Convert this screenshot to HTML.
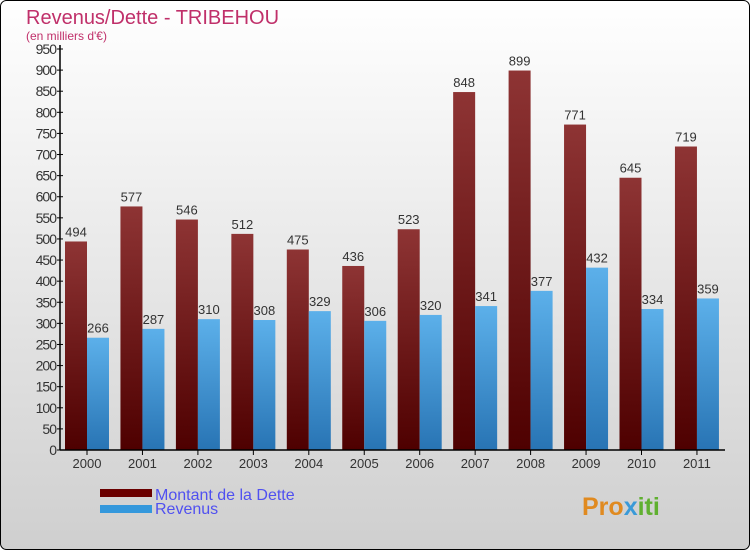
<!DOCTYPE html>
<html><head><meta charset="utf-8"><style>
body{margin:0}
#c{width:750px;height:550px;position:relative;font-family:"Liberation Sans","DejaVu Sans",sans-serif}
</style></head><body>
<div id="c">
<svg width="750" height="550" id="svg">
<defs>
<linearGradient id="bg" x1="0" y1="0" x2="0" y2="1"><stop offset="0" stop-color="#ffffff"/><stop offset="1" stop-color="#cfcfcf"/></linearGradient>
<linearGradient id="gd" x1="0" y1="0" x2="0" y2="1"><stop offset="0" stop-color="#8e3434"/><stop offset="1" stop-color="#4e0000"/></linearGradient>
<linearGradient id="gr" x1="0" y1="0" x2="0" y2="1"><stop offset="0" stop-color="#5cb0ea"/><stop offset="1" stop-color="#2874b4"/></linearGradient>
</defs>
<rect x="0.5" y="0.5" width="749" height="549" rx="6" fill="url(#bg)" stroke="#000"/>
<text x="26" y="24" font-size="20" fill="#c0306a">Revenus/Dette - TRIBEHOU</text>
<text x="26" y="40" font-size="12" fill="#c0306a">(en milliers d'€)</text>
<g id="plot"></g>
<rect x="100" y="489" width="52" height="8" fill="#6a0000"/>
<text x="155" y="500" font-size="16" fill="#5050f0">Montant de la Dette</text>
<rect x="100" y="505" width="52" height="8" fill="#3498dc"/>
<text x="155" y="514" font-size="16" fill="#5050f0">Revenus</text>
<text x="582" y="515" font-size="25" font-weight="bold" fill="#e08a20">Pro<tspan fill="#3a9ad8">x</tspan><tspan fill="#60b030">iti</tspan></text>
</svg>
</div>
<script>
const years=["2000","2001","2002","2003","2004","2005","2006","2007","2008","2009","2010","2011"];
const dette=[494,577,546,512,475,436,523,848,899,771,645,719];
const revenus=[266,287,310,308,329,306,320,341,377,432,334,359];
const ticks=[0,50,100,150,200,250,300,350,400,450,500,550,600,650,700,750,800,850,900,950];
const NS="http://www.w3.org/2000/svg";
const g=document.getElementById('plot');
const y0=450,y1=49,vmax=950;
const y=v=>y0-(v/vmax)*(y0-y1);
const cx=i=>87+i*55.45;
function el(t,a,txt){const e=document.createElementNS(NS,t);for(const k in a)e.setAttribute(k,a[k]);if(txt!==undefined)e.textContent=txt;g.appendChild(e);return e;}
ticks.forEach(t=>{
 const l=el('line',{x1:57,x2:63,y1:y(t),y2:y(t),stroke:'#000'});
 
 
 const tx=el('text',{x:56,y:y(t)+5,'font-size':14,'text-anchor':'end',fill:'#333','letter-spacing':'-1'},t);
 
 
});
years.forEach((yr,i)=>{
 const c=cx(i);
 const b1=el('rect',{x:c-22,y:y(dette[i]),width:22,height:y0-y(dette[i]),fill:'url(#gd)'});
 
 
 const b2=el('rect',{x:c,y:y(revenus[i]),width:22,height:y0-y(revenus[i]),fill:'url(#gr)'});
 
 
 const v1=el('text',{x:c-11,y:y(dette[i])-5,'font-size':13,'text-anchor':'middle',fill:'#333'},dette[i]);
 
 
 const v2=el('text',{x:c+11,y:y(revenus[i])-5,'font-size':13,'text-anchor':'middle',fill:'#333'},revenus[i]);
 
 
 const tk=el('line',{x1:c,x2:c,y1:450,y2:455,stroke:'#000'});
 
 
 const xl=el('text',{x:c,y:468,'font-size':13,'text-anchor':'middle',fill:'#333'},yr);
 
 
});
const ya=el('line',{x1:60,x2:60,y1:45,y2:450,stroke:'#000','stroke-width':1.5});


const xa=el('line',{x1:60,x2:725,y1:450,y2:450,stroke:'#000','stroke-width':1.5});


</script>
</body></html>
